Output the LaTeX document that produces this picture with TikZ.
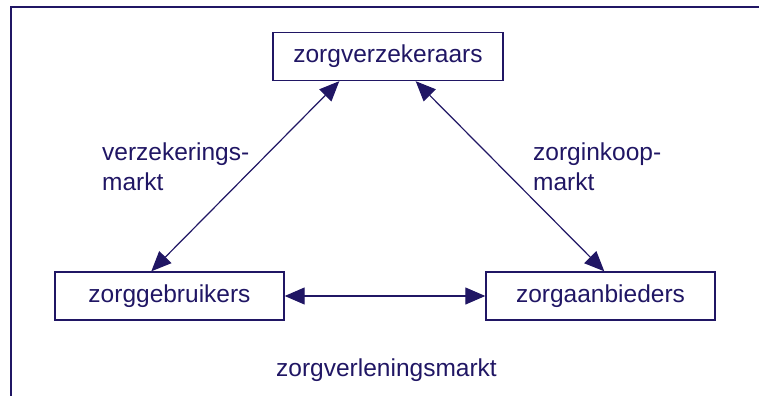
\documentclass[tikz,border=0pt]{standalone}
\usepackage{fontspec}
\setmainfont{Liberation Sans}
\usetikzlibrary{arrows.meta}
\definecolor{navy}{RGB}{32,22,100}
\begin{document}
\begin{tikzpicture}[x=1pt,y=-1pt,
  every node/.style={text=navy,font=\fontsize{24.5}{30}\selectfont},
  box/.style={draw=navy,line width=1.4pt,minimum width=229pt,minimum height=48pt,inner sep=0pt},
  link/.style={draw=navy,line width=1.2pt,{Triangle[length=20pt,width=17pt]}-{Triangle[length=20pt,width=17pt]}},
  lab/.style={inner sep=0pt,align=left,anchor=base west}]
\useasboundingbox (0,0) rectangle (759,396);
\draw[navy,line width=1.5pt] (759,7) -- (11,7) -- (11,396);
\node[box,minimum width=230pt] (verz) at (388,56.5) {zorgverzekeraars};
\node[box] (gebr) at (169.5,296) {zorggebruikers};
\node[box] (aanb) at (600.5,296) {zorgaanbieders};
\draw[link] ([xshift=97pt]gebr.north west) -- ([xshift=67pt]verz.south west);
\draw[link] ([xshift=-88pt]verz.south east) -- ([xshift=119pt]aanb.north west);
\draw[link] (gebr) -- (aanb);
\node[lab] (l1) at (102,190) {verzekerings-\\markt};
\node[lab] (l2) at (533,190) {zorginkoop-\\markt};
\node[lab] (l3) at (276,376) {zorgverleningsmarkt};
\end{tikzpicture}
\end{document}
